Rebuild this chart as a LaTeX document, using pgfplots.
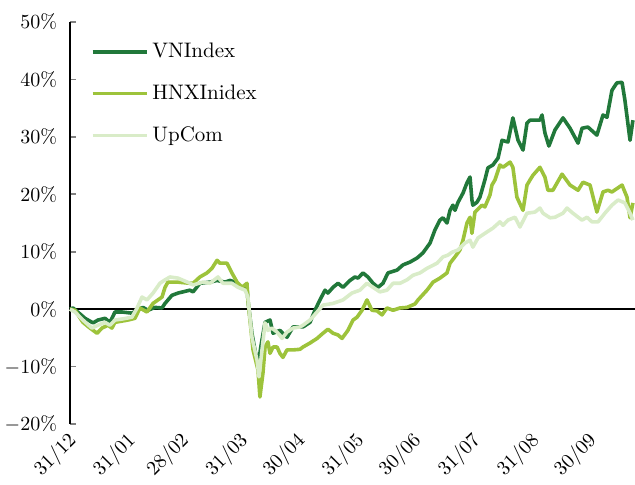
\documentclass[border=0pt]{standalone}
\usepackage{pgfplots}
\pgfplotsset{compat=1.18}
\definecolor{vnc}{RGB}{33,120,58}
\definecolor{hnxc}{RGB}{157,195,59}
\definecolor{upc}{RGB}{217,236,200}
\begin{document}
\begin{tikzpicture}
\begin{axis}[
  name=ax,
  scale only axis,
  width=282.5pt, height=201pt,
  xmin=0, xmax=296.6,
  ymin=-20, ymax=50,
  axis y line=left,
  axis x line=bottom,
  x axis line style={draw=none},
  y axis line style={line width=0.9pt, -},
  ytick={-20,-10,0,10,20,30,40,50},
  yticklabel={$\pgfmathprintnumber{\tick}\%$},
  yticklabel style={font=\fontsize{10}{12}\selectfont, xshift=-3pt},
  ytick style={line width=0.9pt},
  tick align=inside,
  major tick length=3pt,
  xtick={0,31,59,90,120,151,181,212,243,273},
  xticklabels={31/12,31/01,28/02,31/03,30/04,31/05,30/06,31/07,31/08,30/09},
  xtick style={draw=none},
  xticklabel style={font=\fontsize{10}{12}\selectfont, rotate=45, anchor=east, yshift=-6pt},
  legend style={at={(axis description cs:0.036,0.958)}, anchor=north west, draw=none, fill=none,
    font=\fontsize{10.5}{12.5}\selectfont, row sep=8pt, inner sep=0pt,
    /tikz/every even column/.append style={column sep=2pt}},
  legend cell align=left,
  legend image code/.code={\draw[#1] (0pt,0pt) -- (27pt,0pt);},
  clip=false,
]
\addplot[forget plot, black, line width=0.9pt] coordinates {(0,0) (296.6,0)};
\addplot[vnc, line width=1.8pt, line join=round] coordinates {
(0,0) (1.6,0.2) (7.9,-1.6) (12.1,-2.4) (14.7,-1.9) (18.4,-1.6) (21.0,-2.3) (23.6,-0.5) (27.3,-0.5)
(32.5,-0.7) (35.2,-0.2) (38.3,0.3) (40.9,-0.2) (44.6,0.3) (48.3,0.2) (49.9,1.0) (53.5,2.4) (56.7,2.8)
(63.0,3.3) (64.6,3.0) (68.2,4.5) (73.5,4.7) (77.2,5.0) (81.4,4.7) (84.0,5.0) (86.6,4.7) (90.3,3.7)
(92.9,3.8) (93.4,1.6) (95.5,-4.2) (97.6,-8.0) (98.7,-10.0) (100.3,-6.3) (102.4,-2.3) (105.0,-1.9)
(106.6,-4.2) (110.2,-3.7) (113.9,-4.9) (117.1,-3.1) (120.7,-3.1) (122.3,-3.1) (126.0,-2.3) (128.6,-0.2)
(131.2,1.6) (133.9,3.3) (135.4,2.8) (138.1,3.8) (140.7,4.5) (143.3,3.8) (147.0,5.0) (149.6,5.6)
(151.2,5.4) (153.8,6.3) (156.4,5.6) (159.1,4.5) (161.7,3.8) (164.3,4.5) (166.9,6.3) (171.7,6.8)
(174.8,7.7) (178.5,8.2) (182.2,8.9) (185.3,9.8) (189.0,11.5) (191.6,13.8) (194.2,15.5) (195.8,15.9)
(197.9,15.0) (199.5,17.2) (201.0,18.1) (202.1,17.2) (203.7,18.6) (206.3,20.2) (208.4,22.0) (210.0,23.0)
(211.0,19.0) (211.5,18.1) (213.6,18.6) (215.2,19.5) (217.8,22.5) (219.4,24.6) (222.0,25.1) (224.7,26.3)
(226.8,29.4) (229.9,29.1) (232.5,33.3) (235.2,29.4) (237.8,27.7) (239.9,32.4) (241.5,32.9) (246.7,32.9)
(247.8,33.8) (249.3,30.7) (251.4,28.4) (254.6,31.2) (258.8,33.3) (262.5,31.5) (266.7,28.9) (268.8,31.5)
(271.9,31.7) (276.6,30.3) (279.8,33.8) (281.9,33.4) (284.5,38.1) (287.1,39.4) (289.8,39.5) (291.3,36.4)
(294.0,29.4) (295.5,32.9)
};
\addlegendentry{VNIndex}
\addplot[hnxc, line width=1.8pt, line join=round] coordinates {
(0,0) (2.6,-0.2) (6.8,-2.3) (10.5,-3.3) (14.2,-4.2) (16.8,-3.3) (19.9,-2.8) (22.0,-3.3) (23.6,-2.3)
(30.4,-1.9) (34.1,-1.6) (36.7,0.2) (40.4,-0.5) (43.6,1.0) (48.3,2.1) (49.9,3.8) (51.4,4.7) (56.7,4.7)
(63.0,4.5) (64.6,4.5) (68.2,5.6) (71.9,6.3) (74.5,7.1) (77.2,8.5) (78.7,8.0) (82.4,8.0) (85.0,6.3)
(87.7,4.7) (90.3,3.8) (92.9,4.5) (93.4,1.6) (96.1,-7.1) (98.7,-10.6) (99.7,-15.3) (101.3,-11.1)
(102.4,-6.6) (103.9,-5.7) (105.0,-7.7) (106.6,-6.6) (108.7,-6.6) (110.2,-7.7) (111.8,-8.4) (113.9,-7.1)
(117.1,-7.1) (120.7,-7.0) (122.3,-6.6) (126.0,-5.9) (129.7,-5.1) (132.8,-4.2) (135.4,-3.5) (138.1,-4.2)
(140.7,-4.5) (142.8,-5.1) (145.9,-3.7) (148.6,-1.9) (150.7,-1.4) (153.3,-0.2) (155.9,1.6) (158.5,-0.2)
(161.2,-0.3) (163.8,-1.0) (166.4,0.2) (169.6,-0.2) (173.2,0.2) (176.9,0.3) (181.1,0.9) (182.7,1.6)
(187.4,3.3) (190.6,4.7) (194.2,5.4) (197.9,6.3) (199.5,8.0) (202.1,9.1) (204.7,10.3) (206.3,12.0)
(208.4,15.0) (210.0,16.0) (211.0,13.2) (212.6,16.9) (216.3,18.1) (217.8,17.8) (220.5,19.9) (221.5,21.6)
(223.1,22.5) (225.7,25.1) (227.3,24.7) (231.0,25.6) (232.5,24.7) (234.6,19.5) (237.8,17.2) (239.9,21.6)
(241.5,22.5) (243.0,23.3) (246.7,24.7) (249.3,23.0) (250.9,20.7) (253.5,20.7) (258.3,23.5) (262.5,21.6)
(266.7,20.7) (269.3,22.1) (273.0,21.6) (276.6,16.9) (279.8,20.4) (282.4,20.7) (284.5,20.4) (289.8,21.6)
(292.4,19.5) (294.0,15.9) (295.5,18.5)
};
\addlegendentry{HNXInidex}
\addplot[upc, line width=1.8pt, line join=round] coordinates {
(0,0) (2.6,-0.5) (6.8,-1.9) (11.5,-3.3) (14.7,-2.8) (18.4,-2.3) (21.0,-2.8) (23.6,-1.9) (27.8,-1.7)
(32.5,-1.4) (35.2,0.2) (37.8,2.1) (40.4,1.6) (43.6,2.8) (47.2,4.5) (49.9,5.1) (52.5,5.6) (56.7,5.4)
(63.0,4.5) (64.6,4.2) (69.8,4.7) (73.5,4.5) (77.7,5.6) (80.3,4.5) (85.0,4.5) (88.2,3.8) (91.9,3.3)
(93.4,2.1) (95.5,-4.9) (98.2,-8.9) (99.2,-11.8) (100.8,-7.1) (102.4,-2.4) (103.9,-3.7) (106.0,-3.3)
(108.7,-4.0) (111.3,-5.1) (113.9,-4.0) (117.1,-3.3) (120.7,-3.1) (122.3,-2.8) (126.0,-1.9) (129.7,-0.5)
(132.8,0.7) (138.1,1.0) (143.3,1.6) (148.0,2.8) (152.2,3.3) (155.9,4.5) (159.1,3.8) (162.7,3.0)
(166.4,3.3) (169.6,4.5) (173.2,4.5) (176.9,5.1) (180.1,5.9) (183.7,6.3) (187.4,7.1) (192.7,8.0)
(195.8,9.1) (198.4,9.4) (200.5,9.9) (203.7,10.3) (207.3,11.5) (210.0,12.0) (211.5,10.8) (214.2,12.4)
(217.8,13.2) (222.0,14.1) (225.7,15.2) (227.3,14.6) (229.9,15.5) (233.6,16.0) (236.2,14.3) (239.9,16.7)
(244.1,16.9) (246.7,17.6) (248.3,16.7) (252.0,15.9) (254.6,16.0) (258.8,16.7) (260.9,17.6) (264.0,16.7)
(268.8,15.5) (271.4,16.0) (274.0,15.2) (277.2,15.2) (280.8,16.7) (284.5,18.1) (287.7,19.0) (291.3,18.5)
(294.0,16.7) (295.5,15.5)
};
\addlegendentry{UpCom}
\end{axis}
\pgfresetboundingbox
\path ([xshift=-35pt,yshift=-30.5pt]ax.south west) rectangle ([yshift=11pt]ax.north east);
\end{tikzpicture}
\end{document}
